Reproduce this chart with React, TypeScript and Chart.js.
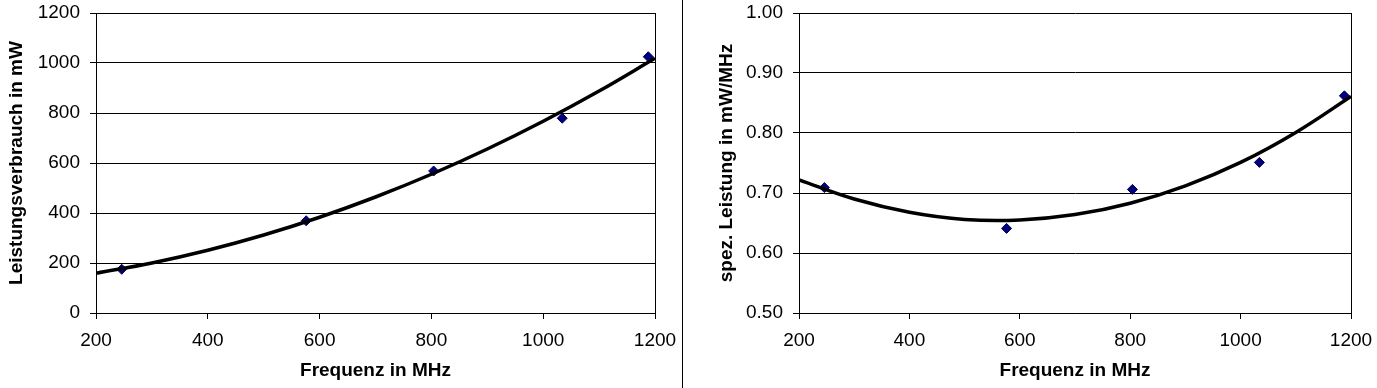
import React, { useEffect, useRef } from "react";
import { Chart, registerables } from "chart.js";

Chart.register(...registerables);

const freqMHz = [246, 576, 804, 1034, 1188];
const powerMW = [175, 369, 568, 779, 1025];
const specPower = [0.709, 0.641, 0.706, 0.751, 0.862];

const trendFreq = [200, 300, 400, 500, 600, 700, 800, 900, 1000, 1100, 1200];
const powerTrend = [159, 200, 251, 312, 383, 464, 555, 656, 767, 888, 1019];
const specTrend = [0.722, 0.69, 0.668, 0.656, 0.655, 0.664, 0.683, 0.712, 0.751, 0.801, 0.861];

const xTitle = "Frequenz in MHz";
const leftYTitle = "Leistungsverbrauch in mW";
const rightYTitle = "spez. Leistung in mW/MHz";

const FONT = "'Liberation Sans', Arial, sans-serif";

function makeConfig(
  xs: number[],
  ys: number[],
  tx: number[],
  ty: number[],
  yMin: number,
  yMax: number,
  yStep: number,
  yTitle: string,
  yAxisWidth: number,
  yTitlePad: number,
  rightPad: number,
  decimals: number
): any {
  return {
    type: "scatter",
    data: {
      datasets: [
        {
          label: "trend",
          data: tx.map((x, i) => ({ x, y: ty[i] })),
          showLine: true,
          borderColor: "#000000",
          borderWidth: 3.5,
          tension: 0.4,
          pointRadius: 0,
          fill: false,
        },
        {
          label: "data",
          data: xs.map((x, i) => ({ x, y: ys[i] })),
          showLine: false,
          pointStyle: "rectRot",
          pointRadius: 5,
          backgroundColor: "#000080",
          borderColor: "#00004a",
          borderWidth: 1,
        },
      ],
    },
    options: {
      animation: false,
      responsive: false,
      events: [],
      layout: { padding: { left: 0, right: rightPad, top: 13, bottom: 0 } },
      plugins: { legend: { display: false }, tooltip: { enabled: false } },
      scales: {
        x: {
          type: "linear",
          min: 200,
          max: 1200,
          afterFit: (s: any) => {
            s.height = 75;
            s.paddingLeft = 0;
            s.paddingRight = 0;
          },
          ticks: {
            stepSize: 200,
            color: "#000",
            padding: 10,
            font: { family: FONT, size: 19 },
            maxRotation: 0,
            callback: (v: any) => String(v),
          },
          grid: {
            drawOnChartArea: true,
            color: (c: any) => (c.tick && c.tick.value === 1200 ? "#000" : "rgba(0,0,0,0)"),
            tickColor: "#000",
            tickLength: 6,
            lineWidth: 1,
          },
          border: { display: true, color: "#000", width: 1 },
          title: {
            display: true,
            text: xTitle,
            color: "#000",
            font: { family: FONT, size: 19, weight: "bold" },
            padding: { top: 0, bottom: 6 },
          },
        },
        y: {
          type: "linear",
          min: yMin,
          max: yMax,
          afterFit: (s: any) => {
            s.width = yAxisWidth;
            s.paddingTop = 0;
            s.paddingBottom = 0;
          },
          ticks: {
            stepSize: yStep,
            color: "#000",
            padding: 10,
            font: { family: FONT, size: 19 },
            callback: (v: any) => Number(v).toFixed(decimals),
          },
          grid: {
            color: "#000",
            tickColor: "#000",
            tickLength: 6,
            lineWidth: 1,
          },
          border: { display: true, color: "#000", width: 1 },
          title: {
            display: true,
            text: yTitle,
            color: "#000",
            font: { family: FONT, size: 19, weight: "bold" },
            padding: { top: yTitlePad, bottom: 0 },
          },
        },
      },
    },
  };
}

function ChartCanvas(props: { width: number; config: any; left: number }) {
  const ref = useRef<HTMLCanvasElement | null>(null);
  useEffect(() => {
    if (!ref.current) return;
    const chart = new Chart(ref.current, props.config);
    return () => chart.destroy();
  }, []);
  return (
    <canvas
      ref={ref}
      width={props.width}
      height={388}
      style={{ position: "absolute", left: props.left, top: 0, width: props.width, height: 388, display: "block" }}
    />
  );
}

export default function App() {
  const leftCfg = makeConfig(freqMHz, powerMW, trendFreq, powerTrend, 0, 1200, 200, leftYTitle, 96, 5, 27, 0);
  const rightCfg = makeConfig(freqMHz, specPower, trendFreq, specTrend, 0.5, 1.0, 0.1, rightYTitle, 116, 32, 26, 2);
  return (
    <div style={{ position: "absolute", left: 0, top: 0, width: 1377, height: 388, background: "#fff", overflow: "hidden" }}>
      <ChartCanvas width={682} config={leftCfg} left={0} />
      <div style={{ position: "absolute", left: 682, top: 0, width: 1, height: 388, background: "#000" }} />
      <ChartCanvas width={694} config={rightCfg} left={683} />
    </div>
  );
}
